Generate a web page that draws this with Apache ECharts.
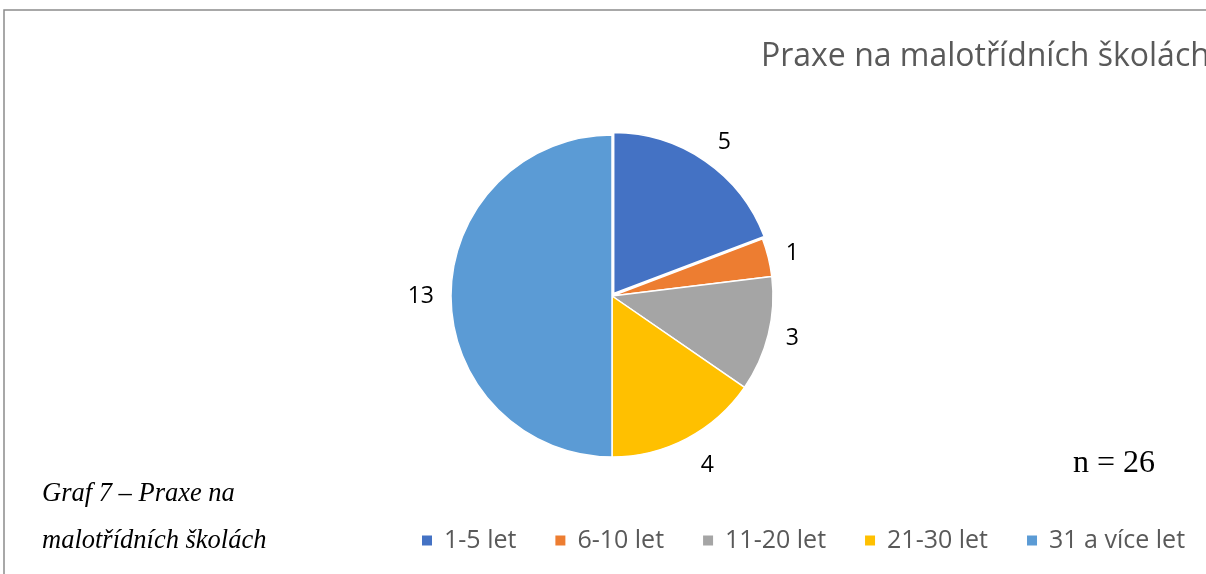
<!DOCTYPE html>
<html>
<head>
<meta charset="utf-8">
<script src="https://cdn.jsdelivr.net/npm/echarts@6/dist/echarts.min.js"></script>
<style>
  html, body { margin: 0; padding: 0; background: #fff; }
  #chart { width: 1206px; height: 574px; }
</style>
</head>
<body>
<div id="chart"></div>
<script>
// praxe na malotřídních školách
var categories = ['1-5 let', '6-10 let', '11-20 let', '21-30 let', '31 a více let'];
var counts = [5, 1, 3, 4, 13];
var colors = ['#4472C4', '#ED7D31', '#A5A5A5', '#FFC000', '#5B9BD5'];
// vzdálenost popisků od okraje výseče
var labelGap = [22, 18, 18, 30, 17];

var chart = echarts.init(document.getElementById('chart'));

var pieData = categories.map(function (name, i) {
    return {
        name: name,
        value: counts[i],
        selected: i === 0,
        itemStyle: { color: colors[i] },
        labelLine: { length: labelGap[i] }
    };
});

var option = {
    animation: false,
    title: {
        text: 'Praxe na malotřídních školách',
        left: 756,
        top: 36,
        textStyle: {
            fontFamily: 'Open Sans',
            fontWeight: 'normal',
            fontSize: 32,
            color: '#595959'
        }
    },
    legend: {
        left: 420,
        top: 528,
        padding: 0,
        itemWidth: 12,
        itemHeight: 12,
        itemGap: 37,
        icon: 'rect',
        data: categories,
        textStyle: {
            fontFamily: 'Open Sans',
            fontSize: 25,
            color: '#595959',
            padding: [0, 0, 0, 6]
        }
    },
    series: [{
        type: 'pie',
        center: [612, 296],
        radius: 161,
        startAngle: 90,
        clockwise: true,
        avoidLabelOverlap: false,
        selectedMode: 'single',
        selectedOffset: 3,
        itemStyle: { borderColor: '#fff', borderWidth: 1.5 },
        label: {
            show: true,
            position: 'outside',
            formatter: '{c}',
            fontFamily: 'Open Sans',
            fontSize: 23,
            color: '#000',
            distanceToLabelLine: 0
        },
        labelLine: { show: false, length: 22, length2: 0 },
        emphasis: { disabled: true },
        data: pieData
    }],
    graphic: [
        {
            type: 'polyline',
            shape: { points: [[4, 600], [4, 10], [1230, 10]] },
            style: { stroke: '#8c8c8c', lineWidth: 1.5, fill: null }
        },
        {
            type: 'text',
            left: 42,
            top: 481,
            style: {
                text: 'Graf 7 – Praxe na',
                font: 'italic 26.5px "Liberation Serif"',
                fill: '#000'
            }
        },
        {
            type: 'text',
            left: 42,
            top: 528,
            style: {
                text: 'malotřídních školách',
                font: 'italic 26.5px "Liberation Serif"',
                fill: '#000'
            }
        },
        {
            type: 'text',
            left: 1073,
            top: 448,
            style: {
                text: 'n = 26',
                font: '32px "Liberation Serif"',
                fill: '#000'
            }
        }
    ]
};

chart.setOption(option);
</script>
</body>
</html>
